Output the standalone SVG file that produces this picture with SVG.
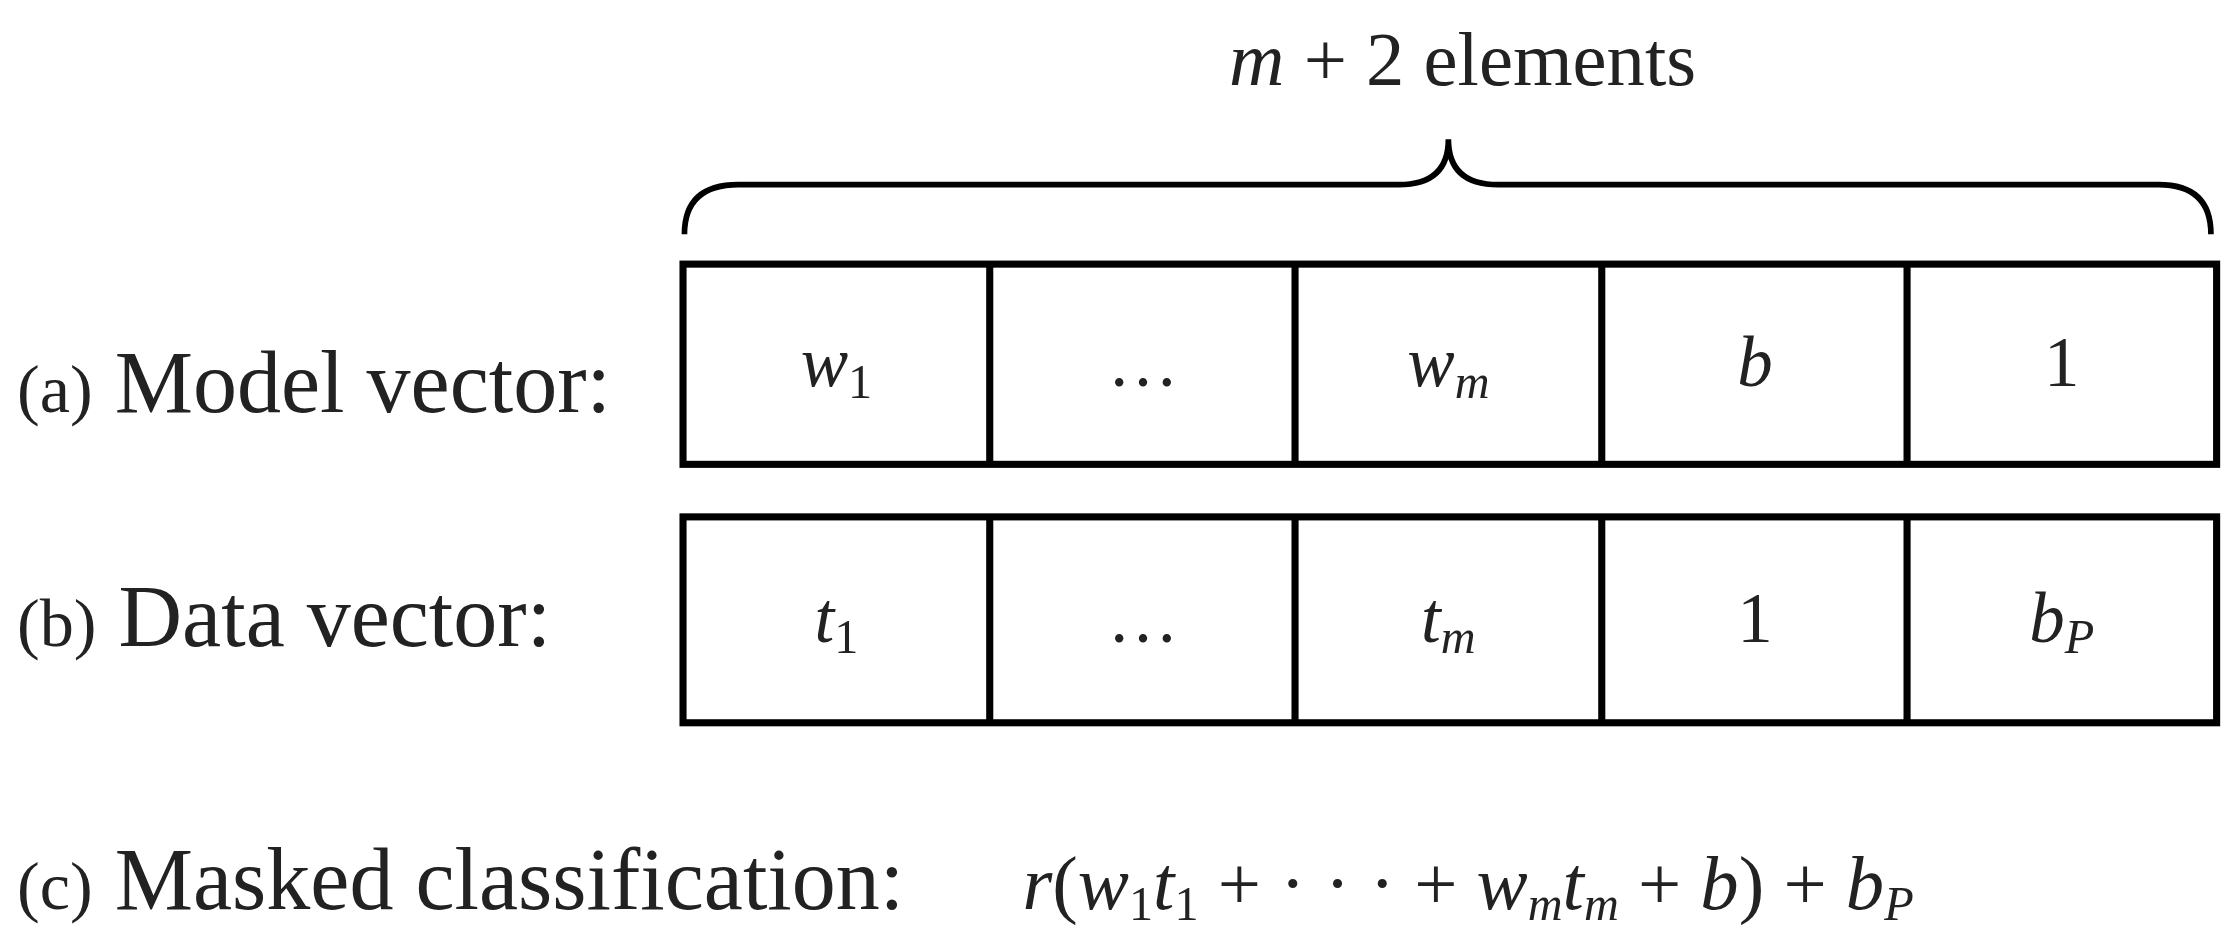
<svg xmlns="http://www.w3.org/2000/svg" width="2225" height="932" viewBox="0 0 2225 932">
<style>
.cell{fill:#fff;stroke:#000;stroke-width:5}
.lbl{font-family:"Liberation Serif",serif;font-size:62px;fill:#222}
.sm{font-size:48px}
.m{font-family:"Liberation Serif",serif;font-size:50px;fill:#222;text-anchor:middle}
.i{font-style:italic}
.sub{font-size:34px}
</style>
<rect width="2225" height="932" fill="#fff"/>
<g transform="scale(1.42)">
<g id="title"><text x="1030" y="60" class="m" style="font-size:54px"><tspan class="i">m</tspan> + 2  elements</text></g>
<g id="brace"><path d="M482,165 Q482,130 520,130 L985,130 Q1020,130 1020,98 Q1020,130 1055,130 L1520,130 Q1557,130 1557,165" fill="none" stroke="#000" stroke-width="4"/></g>
<g id="rowA">
<text x="12" y="290" class="lbl"><tspan class="sm">(a)</tspan> Model vector:</text>
<rect x="481" y="186" width="1080" height="141" class="cell"/>
<path d="M697,186V327M912,186V327M1128,186V327M1343,186V327" stroke="#000" stroke-width="5"/>
<text x="589" y="272" class="m"><tspan class="i">w</tspan><tspan class="sub" dy="8">1</tspan></text>
<text x="805" y="272" class="m">…</text>
<text x="1020" y="272" class="m"><tspan class="i">w</tspan><tspan class="sub i" dy="8">m</tspan></text>
<text x="1236" y="272" class="m i">b</text>
<text x="1452" y="272" class="m">1</text>
</g>
<g id="rowB">
<text x="12" y="455" class="lbl"><tspan class="sm">(b)</tspan> Data vector:</text>
<rect x="481" y="364" width="1080" height="145" class="cell"/>
<path d="M697,364V509M912,364V509M1128,364V509M1343,364V509" stroke="#000" stroke-width="5"/>
<text x="589" y="452" class="m"><tspan class="i">t</tspan><tspan class="sub" dy="8">1</tspan></text>
<text x="805" y="452" class="m">…</text>
<text x="1020" y="452" class="m"><tspan class="i">t</tspan><tspan class="sub i" dy="8">m</tspan></text>
<text x="1236" y="452" class="m">1</text>
<text x="1452" y="452" class="m"><tspan class="i">b</tspan><tspan class="sub i" dy="8">P</tspan></text>
</g>
<g id="rowC">
<text x="12" y="640" class="lbl"><tspan class="sm">(c)</tspan> Masked classification:</text>
<text x="720" y="640" class="m" style="text-anchor:start;font-size:54px"><tspan class="i">r</tspan>(<tspan class="i">w</tspan><tspan class="sub" dy="8">1</tspan><tspan class="i" dy="-8">t</tspan><tspan class="sub" dy="8">1</tspan><tspan dy="-8"> + · · · + </tspan><tspan class="i">w</tspan><tspan class="sub i" dy="8">m</tspan><tspan class="i" dy="-8">t</tspan><tspan class="sub i" dy="8">m</tspan><tspan dy="-8"> + </tspan><tspan class="i">b</tspan>) + <tspan class="i">b</tspan><tspan class="sub i" dy="8">P</tspan></text>
</g>
</g>
</svg>
